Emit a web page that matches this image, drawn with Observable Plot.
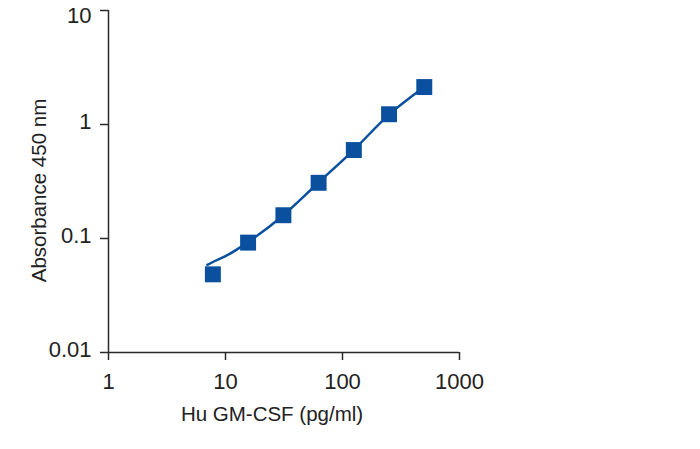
<!DOCTYPE html>
<html>
<head>
<meta charset="utf-8">
<script src="https://cdn.jsdelivr.net/npm/d3@7"></script>
<script src="https://cdn.jsdelivr.net/npm/@observablehq/plot@0.6"></script>
<style>
  html, body { margin: 0; padding: 0; background: #fff; }
  svg { display: block; }
</style>
</head>
<body>
<div id="chart"></div>
<script>
// Standard points (concentration pg/ml, absorbance 450 nm)
const concentrations = [7.8, 15.6, 31.25, 62.5, 125, 250, 500];
const absorbances = [0.0485, 0.092, 0.16, 0.308, 0.597, 1.23, 2.13];

// Fitted curve
const curveX = [7.0, 7.8, 10, 15.6, 31.25, 62.5, 125, 250, 500];
const curveY = [0.0586, 0.0622, 0.070, 0.093, 0.16, 0.31, 0.60, 1.22, 2.13];

const xTicks = [1, 10, 100, 1000];
const yTicksLower = [0.01, 0.1, 1];
const yTicksTop = [10];
const xLabel = "Hu GM-CSF (pg/ml)";
const yLabel = "Absorbance 450 nm";

const points = concentrations.map((x, i) => ({x, y: absorbances[i]}));
const curve = curveX.map((x, i) => ({x, y: curveY[i]}));

const blue = "#0a509e";
const axisColor = "#2a2a2a";
const yTextOpts = {tickFormat: d => String(d), tickSize: 0, tickPadding: 17, fontSize: 22, label: null};

const chart = Plot.plot({
  width: 700,
  height: 449,
  marginLeft: 108,
  marginRight: 241,
  marginTop: 10,
  marginBottom: 97,
  style: {fontFamily: "'Liberation Sans', Arial, sans-serif", color: "#222", background: "#fff"},
  x: {type: "log", domain: [1, 1000]},
  y: {type: "log", domain: [0.01, 10]},
  marks: [
    Plot.ruleX([1], {y1: 0.01, y2: 10, stroke: axisColor, strokeWidth: 1.5}),
    Plot.ruleY([0.01], {x1: 1, x2: 1000, stroke: axisColor, strokeWidth: 1.5}),
    Plot.axisX({ticks: xTicks, tickFormat: d => String(d), tickSize: 8, tickPadding: 13, fontSize: 22, stroke: axisColor, strokeWidth: 1.5, label: null}),
    Plot.axisY({ticks: yTicksLower.concat(yTicksTop), tickFormat: () => "", tickSize: 8, stroke: axisColor, strokeWidth: 1.5, label: null}),
    Plot.axisY({...yTextOpts, ticks: yTicksLower, dy: -3}),
    Plot.axisY({...yTextOpts, ticks: yTicksTop, dy: 5}),
    Plot.line(curve, {x: "x", y: "y", stroke: blue, strokeWidth: 2.5, curve: "monotone-x"}),
    Plot.dot(points, {x: "x", y: "y", symbol: "square", r: 9, fill: blue, stroke: "none"}),
    Plot.text([xLabel], {frameAnchor: "bottom", text: d => d, fontSize: 20.5, textAnchor: "middle", lineAnchor: "middle", dx: -12, dy: 61.5, fill: "#222"}),
    Plot.text([yLabel], {frameAnchor: "left", text: d => d, fontSize: 20.5, rotate: -90, textAnchor: "middle", lineAnchor: "middle", dx: -69.5, dy: 9, fill: "#222"})
  ]
});

document.getElementById("chart").appendChild(chart);
</script>
</body>
</html>
